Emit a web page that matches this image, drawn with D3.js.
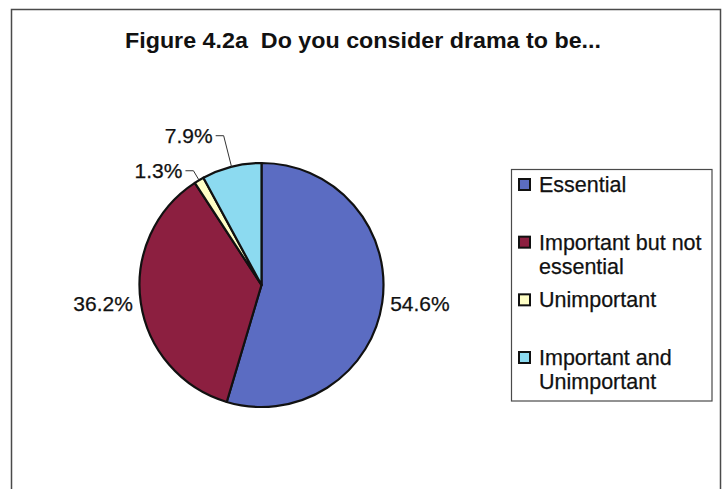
<!DOCTYPE html>
<html>
<head>
<meta charset="utf-8">
<script src="https://cdn.jsdelivr.net/npm/d3@7"></script>
<style>
  html, body { margin: 0; padding: 0; background: #fff; }
  svg { display: block; }
</style>
</head>
<body>
<svg id="chart" width="725" height="489"></svg>
<script>
// ---- data ----
const title = "Figure 4.2a\u00a0 Do you consider drama to be...";
const categories = ["Essential", "Important but not essential", "Unimportant", "Important and Unimportant"];
const legendLines = [["Essential"], ["Important but not", "essential"], ["Unimportant"], ["Important and", "Unimportant"]];
const values = [54.6, 36.2, 1.3, 7.9];
const labels = ["54.6%", "36.2%", "1.3%", "7.9%"];
const colors = ["#5b6cc2", "#8c1f40", "#ffffc6", "#8cdaf0"];

// ---- layout ----
const W = 725, H = 489;
const cx = 261.5, cy = 285, r = 122;
const font = "'Liberation Sans', Arial, sans-serif";
const labelOffset = [8, 8, 11, 32];   // radial distance of label anchor beyond rim
const leader = [false, false, true, true];

const svg = d3.select("#chart");

// frame
svg.append("rect")
  .attr("x", 11.5).attr("y", 9.5).attr("width", 709).attr("height", 484)
  .attr("fill", "#fff").attr("stroke", "#4a4a4a").attr("stroke-width", 1.5);

// title
svg.append("text")
  .attr("x", 125).attr("y", 48)
  .attr("font-family", font).attr("font-weight", "bold").attr("font-size", 22)
  .attr("textLength", 476).attr("lengthAdjust", "spacingAndGlyphs")
  .attr("fill", "#111")
  .text(title);

// pie
const pie = d3.pie().sort(null).value(d => d)
  .startAngle(0).endAngle(2 * Math.PI);
const arcs = pie(values);
const arc = d3.arc().innerRadius(0).outerRadius(r);

const g = svg.append("g").attr("transform", `translate(${cx},${cy})`);
g.selectAll("path.slice").data(arcs).join("path")
  .attr("class", "slice")
  .attr("d", arc)
  .attr("fill", (d, i) => colors[i])
  .attr("stroke", "#111").attr("stroke-width", 2.2).attr("stroke-linejoin", "round");

// labels
arcs.forEach((d, i) => {
  const a = (d.startAngle + d.endAngle) / 2;
  const sx = Math.sin(a), sy = -Math.cos(a);
  const R = r + labelOffset[i];
  const px = sx * R, py = sy * R;
  const left = sx < 0;
  let tx = px;
  if (leader[i]) {
    const ex = sx * r, ey = sy * r;
    const hx = px + (left ? -8 : 8);
    g.append("path")
      .attr("d", `M${ex},${ey}L${px},${py}L${hx},${py}`)
      .attr("fill", "none").attr("stroke", "#333").attr("stroke-width", 1);
    tx = hx + (left ? -3 : 3);
  }
  g.append("text")
    .attr("x", tx).attr("y", py)
    .attr("dy", "0.35em")
    .attr("text-anchor", left ? "end" : "start")
    .attr("font-family", font).attr("font-size", 21).attr("fill", "#111")
    .attr("stroke", "#111").attr("stroke-width", 0.25)
    .text(labels[i]);
});

// legend
svg.append("rect")
  .attr("x", 511.5).attr("y", 169.5).attr("width", 200.5).attr("height", 231.5)
  .attr("fill", "#fff").attr("stroke", "#4a4a4a").attr("stroke-width", 1.2);

const legendY = d3.scalePoint().domain(d3.range(categories.length)).range([192, 365]);
categories.forEach((c, i) => {
  const y = legendY(i);
  svg.append("rect")
    .attr("x", 519).attr("y", y - 13).attr("width", 11).attr("height", 11)
    .attr("fill", colors[i]).attr("stroke", "#111").attr("stroke-width", 2);
  const t = svg.append("text")
    .attr("x", 539).attr("y", y)
    .attr("font-family", font).attr("font-size", 21.5).attr("fill", "#111")
    .attr("stroke", "#111").attr("stroke-width", 0.25);
  legendLines[i].forEach((ln, k) => {
    t.append("tspan").attr("x", 539).attr("dy", k === 0 ? 0 : 24).text(ln);
  });
});
</script>
</body>
</html>
